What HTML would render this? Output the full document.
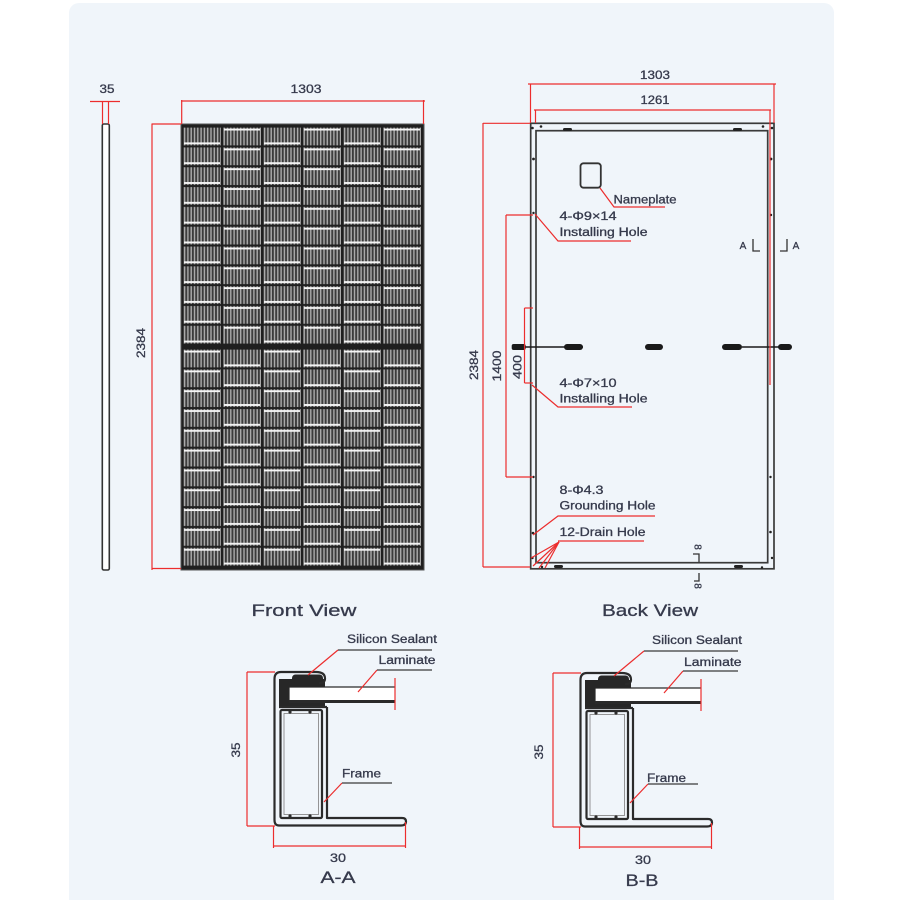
<!DOCTYPE html>
<html><head><meta charset="utf-8"><style>
html,body{margin:0;padding:0;background:#fff;}
svg{display:block;}
text{font-family:"Liberation Sans",sans-serif;fill:#363a4c;stroke:#363a4c;stroke-width:0.3;}
</style></head><body>
<svg width="900" height="900" viewBox="0 0 900 900" xmlns="http://www.w3.org/2000/svg">
<defs>
<pattern id="st" patternUnits="userSpaceOnUse" width="3.3" height="20">
 <rect width="3.3" height="20" fill="#3b3b3b"/>
 <rect x="0.9" width="1.4" height="20" fill="#acacac"/>
</pattern>
<pattern id="ct" patternUnits="userSpaceOnUse" x="183" y="127" width="80" height="19.82">
 <rect width="80" height="19.82" fill="#1f1f1f"/>
 <rect x="0" y="0.6" width="38" height="17.8" fill="url(#st)"/>
 <rect x="40" y="0.6" width="38" height="17.8" fill="url(#st)"/>
 <rect x="1" y="15.4" width="36" height="1.9" fill="#f5f5f5"/>
 <rect x="41" y="1.6" width="36" height="1.9" fill="#f5f5f5"/>
</pattern>
<pattern id="cb" patternUnits="userSpaceOnUse" x="183" y="349" width="80" height="19.82">
 <rect width="80" height="19.82" fill="#1f1f1f"/>
 <rect x="0" y="0.6" width="38" height="17.8" fill="url(#st)"/>
 <rect x="40" y="0.6" width="38" height="17.8" fill="url(#st)"/>
 <rect x="1" y="1.6" width="36" height="1.9" fill="#f5f5f5"/>
 <rect x="41" y="15.4" width="36" height="1.9" fill="#f5f5f5"/>
</pattern>
<g id="sec">
 <path d="M279,679 L325,679 L325,707 L279,707 Z" fill="#272727"/>
 <rect x="292" y="674.5" width="31" height="8" rx="3.5" fill="#272727"/>
 <rect x="289" y="687" width="106" height="13.5" fill="#fff"/>
 <line x1="289" y1="687" x2="395" y2="687" stroke="#2a2a2a" stroke-width="1.3"/>
 <line x1="289" y1="701.5" x2="395" y2="701.5" stroke="#2a2a2a" stroke-width="3"/>
 <line x1="289" y1="687" x2="289" y2="701" stroke="#2a2a2a" stroke-width="1.2"/>
 <g fill="none" stroke="#2b2b2b" stroke-width="2.2" stroke-linejoin="round">
  <path d="M327,707 L327,818 L402,818 Q406,818 406,821.5 Q406,825.5 401,825.5 L279,825.5 Q274.5,825.5 274.5,820 L274.5,679 Q274.5,672 281,672 L316,672 Q325,672 325,678.5 Q325,683.5 319,683"/>
  <rect x="280.5" y="710" width="41.5" height="108" rx="1.5"/>
  <line x1="279" y1="707" x2="327" y2="707"/>
 </g>
 <rect x="284" y="713.5" width="34.5" height="101" fill="none" stroke="#8a8a8a" stroke-width="0.9"/>
 <circle cx="290" cy="712" r="1.6" fill="#2b2b2b"/><circle cx="310" cy="712" r="1.6" fill="#2b2b2b"/>
 <circle cx="290" cy="816" r="1.6" fill="#2b2b2b"/><circle cx="310" cy="816" r="1.6" fill="#2b2b2b"/>
 <g stroke="#ec2d2d" stroke-width="1.2" fill="none">
  <line x1="395" y1="678" x2="395" y2="710"/>
  <line x1="247" y1="672" x2="247" y2="826"/>
  <line x1="247" y1="672" x2="275" y2="672"/>
  <line x1="247" y1="826" x2="275" y2="826"/>
  <line x1="273" y1="846" x2="406" y2="846"/>
  <line x1="273.5" y1="826" x2="273.5" y2="848"/>
  <line x1="405.5" y1="822" x2="405.5" y2="848"/>
  <line x1="338" y1="650" x2="308" y2="675"/>
  <line x1="377" y1="670" x2="358" y2="692"/>
  <line x1="342" y1="783" x2="324" y2="802"/>
 </g>
 <g stroke="#3a3a3a" stroke-width="1.3">
  <line x1="338" y1="650" x2="432" y2="650"/>
  <line x1="377" y1="670" x2="432" y2="670"/>
  <line x1="342" y1="783" x2="392" y2="783"/>
 </g>
</g>
</defs>

<rect width="900" height="900" fill="#fff"/>
<rect x="69" y="3" width="765" height="910" rx="10" fill="#f0f5fa"/>

<!-- side edge view -->
<rect x="102.3" y="124" width="7" height="446" rx="1.5" fill="#fff" stroke="#333" stroke-width="1.6"/>
<g stroke="#ec2d2d" stroke-width="1.2">
 <line x1="90" y1="101.5" x2="120" y2="101.5"/>
 <line x1="102.5" y1="101.5" x2="102.5" y2="124"/>
 <line x1="108.5" y1="101.5" x2="108.5" y2="124"/>
</g>
<text x="107" y="93" font-size="12" text-anchor="middle" textLength="15" lengthAdjust="spacingAndGlyphs">35</text>

<!-- front view -->
<rect x="181" y="124" width="243" height="446" fill="#1f1f1f" stroke="#555" stroke-width="1"/>
<rect x="183" y="127" width="239" height="218" fill="url(#ct)"/>
<rect x="183" y="349" width="239" height="218" fill="url(#cb)"/>
<g stroke="#ec2d2d" stroke-width="1.2">
 <line x1="181" y1="101" x2="425" y2="101"/>
 <line x1="181.7" y1="100" x2="181.7" y2="124"/>
 <line x1="423.5" y1="100" x2="423.5" y2="124"/>
 <line x1="152" y1="123.5" x2="152" y2="570"/>
 <line x1="152" y1="124" x2="181" y2="124"/>
 <line x1="152" y1="568.5" x2="181" y2="568.5"/>
</g>
<text x="306" y="93" font-size="12" text-anchor="middle" textLength="31" lengthAdjust="spacingAndGlyphs">1303</text>
<text x="141" y="343" font-size="12" text-anchor="middle" dominant-baseline="central" transform="rotate(-90 141 343)" textLength="30" lengthAdjust="spacingAndGlyphs">2384</text>
<text x="304" y="616" font-size="17" text-anchor="middle" textLength="105" lengthAdjust="spacingAndGlyphs">Front View</text>

<!-- back view -->
<rect x="530.7" y="123.3" width="243.3" height="445.5" fill="none" stroke="#3a3a3a" stroke-width="1.7"/>
<rect x="536" y="130.7" width="231.7" height="432" fill="none" stroke="#3a3a3a" stroke-width="1.7"/>
<g fill="#222">
 <rect x="563" y="128" width="9" height="3" rx="1.5"/>
 <rect x="733" y="128" width="9" height="3" rx="1.5"/>
 <circle cx="541" cy="126.5" r="1.3"/><circle cx="763" cy="126.5" r="1.3"/>
 <circle cx="532.5" cy="128" r="1.3"/><circle cx="772" cy="128" r="1.3"/>
 <circle cx="533.5" cy="159" r="1.4"/><circle cx="771" cy="159" r="1.4"/>
 <circle cx="533.5" cy="213" r="1.2"/><circle cx="771" cy="215" r="1.2"/>
 <circle cx="533.5" cy="477" r="1.2"/><circle cx="770.5" cy="477" r="1.2"/>
 <circle cx="533" cy="533" r="1.3"/><circle cx="770.5" cy="532" r="1.3"/>
 <circle cx="532.5" cy="558" r="1.2"/><circle cx="772" cy="558" r="1.2"/>
 <rect x="554" y="565" width="9" height="3" rx="1.5"/>
 <rect x="734" y="565" width="9" height="3" rx="1.5"/>
 <circle cx="542" cy="567" r="1.2"/><circle cx="762" cy="567.5" r="1.2"/>
</g>
<!-- middle holes line -->
<g fill="#1a1a1a">
 <line x1="512" y1="347" x2="583" y2="347" stroke="#1a1a1a" stroke-width="1.6"/>
 <rect x="511.7" y="344" width="14" height="6" rx="2"/>
 <rect x="564" y="344" width="19" height="6" rx="3"/>
 <rect x="645" y="344" width="18" height="6" rx="3"/>
 <rect x="722" y="344" width="20" height="6" rx="3"/>
 <line x1="742" y1="347" x2="780" y2="347" stroke="#1a1a1a" stroke-width="1.6"/>
 <rect x="778" y="344" width="14" height="6" rx="3"/>
</g>
<!-- nameplate -->
<rect x="580.5" y="163.3" width="20.3" height="24.4" rx="3" fill="none" stroke="#333" stroke-width="1.8"/>
<!-- red dims / leaders -->
<g stroke="#ec2d2d" stroke-width="1.2" fill="none">
 <line x1="528" y1="84" x2="776" y2="84"/>
 <line x1="530.5" y1="84" x2="530.5" y2="123"/>
 <line x1="774" y1="84" x2="774" y2="123"/>
 <line x1="534" y1="110" x2="771" y2="110"/>
 <line x1="535.5" y1="110" x2="535.5" y2="123"/>
 <line x1="770" y1="110" x2="770" y2="385"/>
 <line x1="483" y1="123" x2="483" y2="567"/>
 <line x1="483" y1="123.3" x2="530" y2="123.3"/>
 <line x1="483" y1="567" x2="530" y2="567"/>
 <line x1="506" y1="215" x2="506" y2="477"/>
 <line x1="506" y1="215" x2="533" y2="215"/>
 <line x1="506" y1="477" x2="533" y2="477"/>
 <line x1="524.5" y1="308" x2="524.5" y2="383"/>
 <line x1="524.5" y1="308" x2="533" y2="308"/>
 <line x1="524.5" y1="383" x2="533" y2="383"/>
 <polyline points="600,188 614,207 665,207"/>
 <polyline points="535,214 558,241 631,241"/>
 <polyline points="532,385 558,407 632,407"/>
 <polyline points="533,535 558,516 655,516"/>
 <line x1="558" y1="541" x2="644" y2="541"/>
 <line x1="559" y1="542" x2="531" y2="558"/>
 <line x1="559" y1="542" x2="533" y2="566"/>
 <line x1="559" y1="542" x2="539" y2="568"/>
 <line x1="559" y1="542" x2="545" y2="568"/>
</g>
<!-- section markers A / 8 -->
<g stroke="#333" stroke-width="1.3" fill="none">
 <polyline points="753,239 753,251 760,251"/>
 <polyline points="780,251 787,251 787,239"/>
 <polyline points="693,554 699,554 699,562"/>
 <polyline points="699,573 699,581 694,581"/>
</g>
<text x="743" y="249" font-size="10" text-anchor="middle">A</text>
<text x="796" y="249" font-size="10" text-anchor="middle">A</text>
<text x="697" y="547" font-size="10" text-anchor="middle" dominant-baseline="central" transform="rotate(90 697 547)">8</text>
<text x="697" y="586" font-size="10" text-anchor="middle" dominant-baseline="central" transform="rotate(90 697 586)">8</text>

<text x="655" y="79" font-size="12" text-anchor="middle" textLength="30" lengthAdjust="spacingAndGlyphs">1303</text>
<text x="655" y="104" font-size="12" text-anchor="middle" textLength="29" lengthAdjust="spacingAndGlyphs">1261</text>
<text x="474" y="365" font-size="12" text-anchor="middle" dominant-baseline="central" transform="rotate(-90 474 365)" textLength="30" lengthAdjust="spacingAndGlyphs">2384</text>
<text x="497" y="366" font-size="12" text-anchor="middle" dominant-baseline="central" transform="rotate(-90 497 366)" textLength="31" lengthAdjust="spacingAndGlyphs">1400</text>
<text x="517.5" y="367" font-size="12" text-anchor="middle" dominant-baseline="central" transform="rotate(-90 517.5 367)" textLength="24" lengthAdjust="spacingAndGlyphs">400</text>

<g font-size="11.5">
 <text x="613.5" y="203.5" textLength="63" lengthAdjust="spacingAndGlyphs">Nameplate</text>
 <text x="559.5" y="220" textLength="57" lengthAdjust="spacingAndGlyphs">4-Φ9×14</text>
 <text x="559.5" y="236" textLength="88" lengthAdjust="spacingAndGlyphs">Installing Hole</text>
 <text x="559.5" y="387" textLength="57" lengthAdjust="spacingAndGlyphs">4-Φ7×10</text>
 <text x="559.5" y="402.5" textLength="88" lengthAdjust="spacingAndGlyphs">Installing Hole</text>
 <text x="559.5" y="494" textLength="44" lengthAdjust="spacingAndGlyphs">8-Φ4.3</text>
 <text x="559.5" y="509.5" textLength="96" lengthAdjust="spacingAndGlyphs">Grounding Hole</text>
 <text x="559.5" y="536" textLength="86" lengthAdjust="spacingAndGlyphs">12-Drain Hole</text>
</g>
<text x="650" y="616" font-size="17" text-anchor="middle" textLength="96" lengthAdjust="spacingAndGlyphs">Back View</text>

<!-- sections -->
<use href="#sec"/>
<use href="#sec" x="306" y="1"/>

<g font-size="11.5">
 <text x="347" y="643" textLength="90" lengthAdjust="spacingAndGlyphs">Silicon Sealant</text>
 <text x="378.5" y="664" textLength="57" lengthAdjust="spacingAndGlyphs">Laminate</text>
 <text x="342" y="777.5" textLength="39" lengthAdjust="spacingAndGlyphs">Frame</text>
 <text x="652" y="644" textLength="90" lengthAdjust="spacingAndGlyphs">Silicon Sealant</text>
 <text x="684" y="666" textLength="57.5" lengthAdjust="spacingAndGlyphs">Laminate</text>
 <text x="647" y="782" textLength="39" lengthAdjust="spacingAndGlyphs">Frame</text>
</g>
<text x="338" y="862" font-size="12" text-anchor="middle" textLength="16" lengthAdjust="spacingAndGlyphs">30</text>
<text x="643" y="864" font-size="12" text-anchor="middle" textLength="16" lengthAdjust="spacingAndGlyphs">30</text>
<text x="236" y="750" font-size="12" text-anchor="middle" dominant-baseline="central" transform="rotate(-90 236 750)" textLength="15" lengthAdjust="spacingAndGlyphs">35</text>
<text x="539" y="752" font-size="12" text-anchor="middle" dominant-baseline="central" transform="rotate(-90 539 752)" textLength="15" lengthAdjust="spacingAndGlyphs">35</text>
<text x="338" y="883" font-size="17" text-anchor="middle" textLength="35" lengthAdjust="spacingAndGlyphs">A-A</text>
<text x="642" y="886" font-size="17" text-anchor="middle" textLength="33" lengthAdjust="spacingAndGlyphs">B-B</text>
</svg>
</body></html>
